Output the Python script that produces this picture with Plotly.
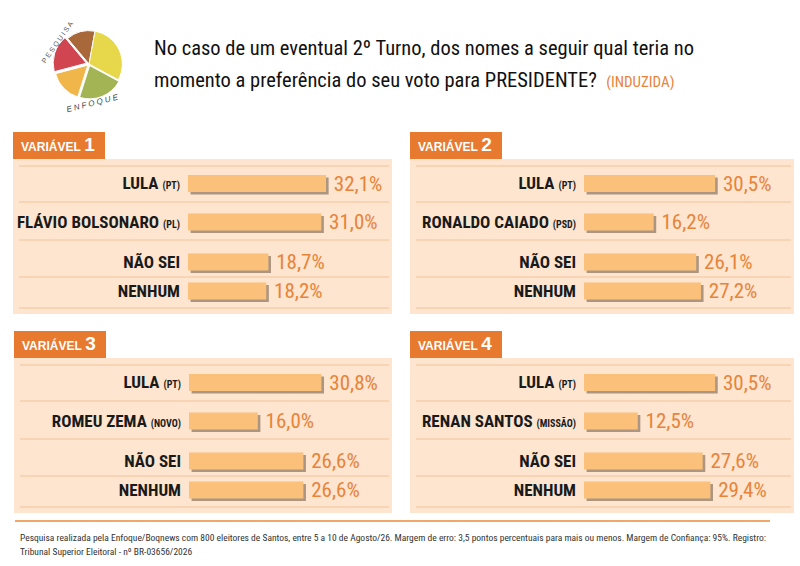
import plotly.graph_objects as go

# ---------------- data ----------------
TITLE_LINE1 = "No caso de um eventual 2º Turno, dos nomes a seguir qual teria no"
TITLE_LINE2 = "momento a preferência do seu voto para PRESIDENTE?"
TITLE_TAG = "(INDUZIDA)"

PANEL_NUMBERS = ["1", "2", "3", "4"]

CANDIDATES_1 = ["LULA", "FLÁVIO BOLSONARO", "NÃO SEI", "NENHUM"]
PARTIES_1 = ["PT", "PL", "", ""]
VALUES_1 = [32.1, 31.0, 18.7, 18.2]

CANDIDATES_2 = ["LULA", "RONALDO CAIADO", "NÃO SEI", "NENHUM"]
PARTIES_2 = ["PT", "PSD", "", ""]
VALUES_2 = [30.5, 16.2, 26.1, 27.2]

CANDIDATES_3 = ["LULA", "ROMEU ZEMA", "NÃO SEI", "NENHUM"]
PARTIES_3 = ["PT", "NOVO", "", ""]
VALUES_3 = [30.8, 16.0, 26.6, 26.6]

CANDIDATES_4 = ["LULA", "RENAN SANTOS", "NÃO SEI", "NENHUM"]
PARTIES_4 = ["PT", "MISSÃO", "", ""]
VALUES_4 = [30.5, 12.5, 27.6, 29.4]

FOOTER_LINE1 = ("Pesquisa realizada pela Enfoque/Boqnews com 800 eleitores de Santos, entre 5 a 10 de Agosto/26. "
                "Margem de erro: 3,5 pontos percentuais para mais ou menos. Margem de Confiança: 95%. Registro:")
FOOTER_LINE2 = "Tribunal Superior Eleitoral - nº BR-03656/2026"

LOGO_SLICES = [14, 30, 22, 16, 18]
LOGO_COLORS = ["#A8683A", "#E6D84A", "#A3B455", "#F0B64A", "#D04550"]

# ---------------- style / layout ----------------
W, H = 800, 566
NARROW = "Roboto Condensed, Roboto, sans-serif"
WIDE = "Liberation Sans, Arial, sans-serif"
ORANGE = "#E77A2E"
VALUE_ORANGE = "#E8833A"
PANEL_BG = "#FDE5CF"
SEP_COLOR = "#F3C29A"
BAR_COLOR = "#FBC07A"
SHADOW = "rgba(105,85,65,0.55)"
PX_PER_PCT = 4.3
ROW_CENTERS = [24.5, 63, 103, 132]   # px below panel top
SEPARATORS = [7, 43, 81, 118, 149]   # px below panel top
PANEL_H = 155

PANELS = [
    dict(x0=13, x1=392, top=159, bar0=188),
    dict(x0=410, x1=794, top=159, bar0=584),
    dict(x0=14, x1=392, top=358, bar0=189),
    dict(x0=410, x1=794, top=358, bar0=584),
]
TAB_W = 92
TAB_H = 27

def px(x):
    return x / W

def py(y):
    return 1 - y / H

DATA = [
    (CANDIDATES_1, PARTIES_1, VALUES_1),
    (CANDIDATES_2, PARTIES_2, VALUES_2),
    (CANDIDATES_3, PARTIES_3, VALUES_3),
    (CANDIDATES_4, PARTIES_4, VALUES_4),
]

fig = go.Figure()
shapes = []
annotations = []

for i, (geo, (cands, parties, vals)) in enumerate(zip(PANELS, DATA)):
    n = i + 1
    xa = "x" if n == 1 else f"x{n}"
    ya = "y" if n == 1 else f"y{n}"
    shapes.append(dict(type="rect", xref="paper", yref="paper", layer="below",
                       x0=px(geo["x0"]), x1=px(geo["x1"]),
                       y0=py(geo["top"] + PANEL_H), y1=py(geo["top"]),
                       fillcolor=PANEL_BG, line=dict(width=0)))
    shapes.append(dict(type="rect", xref="paper", yref="paper", layer="below",
                       x0=px(geo["x0"]), x1=px(geo["x0"] + TAB_W),
                       y0=py(geo["top"]), y1=py(geo["top"] - TAB_H),
                       fillcolor=ORANGE, line=dict(width=0)))
    annotations.append(dict(xref="paper", yref="paper", x=px(geo["x0"] + 6), y=py(geo["top"] - TAB_H / 2 - 1),
                            xanchor="left", yanchor="middle", showarrow=False,
                            text=f"<b>VARIÁVEL</b> <b><span style='font-size:19px'>{PANEL_NUMBERS[i]}</span></b>",
                            font=dict(family=WIDE, size=12, color="white")))
    for s in SEPARATORS:
        shapes.append(dict(type="line", xref="paper", yref="paper", layer="below",
                           x0=px(geo["x0"] + 6), x1=px(geo["x1"] - 3),
                           y0=py(geo["top"] + s), y1=py(geo["top"] + s),
                           line=dict(color=SEP_COLOR, width=1.2)))
    labels = []
    for c, p in zip(cands, parties):
        t = f"<b>{c}</b>"
        if p:
            t += f" <b><span style='font-size:10px'>({p})</span></b>"
        labels.append(t)
    fig.add_trace(go.Bar(x=vals, y=ROW_CENTERS, orientation="h", xaxis=xa, yaxis=ya,
                         width=17, offset=-6, base=0.6, marker=dict(color=SHADOW, line=dict(width=0)),
                         hoverinfo="skip", showlegend=False))
    fig.add_trace(go.Bar(x=vals, y=ROW_CENTERS, orientation="h", xaxis=xa, yaxis=ya,
                         width=17, marker=dict(color=BAR_COLOR, line=dict(width=0)),
                         texttemplate="\u00a0%{x:.1f}%", textposition="outside", cliponaxis=False,
                         constraintext="none",
                         textfont=dict(family=NARROW, size=21, color=VALUE_ORANGE),
                         showlegend=False))
    x_end = geo["x1"]
    fig.update_layout({
        ("xaxis" if n == 1 else f"xaxis{n}"): dict(
            domain=[px(geo["bar0"]), px(x_end)], anchor=ya,
            range=[0, (x_end - geo["bar0"]) / PX_PER_PCT],
            visible=False, fixedrange=True),
        ("yaxis" if n == 1 else f"yaxis{n}"): dict(
            domain=[py(geo["top"] + PANEL_H), py(geo["top"])], anchor=xa,
            range=[PANEL_H, 0], tickmode="array", tickvals=ROW_CENTERS, ticktext=labels,
            showgrid=False, zeroline=False, showline=False, ticks="",
            ticklabelstandoff=7,
            tickfont=dict(family=NARROW, size=17, color="#1a1a1a"), fixedrange=True),
    })

# logo
fig.add_trace(go.Pie(values=LOGO_SLICES, marker=dict(colors=LOGO_COLORS, line=dict(color="white", width=1)),
                     sort=False, direction="clockwise", rotation=-40, textinfo="none", hoverinfo="skip",
                     pull=[0, 0, 0.05, 0.05, 0.08], showlegend=False,
                     domain=dict(x=[px(52), px(126)], y=[py(100), py(28)])))
annotations.append(dict(xref="paper", yref="paper", x=px(58), y=py(42), xanchor="center", yanchor="middle",
                        showarrow=False, textangle=-55,
                        text="P E S Q U I S A", font=dict(family=WIDE, size=7, color="#555")))
annotations.append(dict(xref="paper", yref="paper", x=px(92), y=py(104), xanchor="center", yanchor="middle",
                        showarrow=False, textangle=-14,
                        text="<i>E N F O Q U E</i>", font=dict(family=WIDE, size=8, color="#444")))

# title
annotations.append(dict(xref="paper", yref="paper", x=px(152), y=py(48), xanchor="left", yanchor="middle",
                        showarrow=False, text=TITLE_LINE1,
                        font=dict(family=NARROW, size=20.5, color="#111")))
annotations.append(dict(xref="paper", yref="paper", x=px(152), y=py(80), xanchor="left", yanchor="middle",
                        showarrow=False,
                        text=TITLE_LINE2 + "  <span style='font-size:15px;color:" + VALUE_ORANGE + "'>" + TITLE_TAG + "</span>",
                        font=dict(family=NARROW, size=20.5, color="#111")))

# footer
shapes.append(dict(type="line", xref="paper", yref="paper", x0=px(15), x1=px(770), y0=py(521), y1=py(521),
                   line=dict(color="#F0A868", width=2)))
annotations.append(dict(xref="paper", yref="paper", x=px(18), y=py(537), xanchor="left", yanchor="middle",
                        showarrow=False, text=FOOTER_LINE1, font=dict(family=NARROW, size=9.5, color="#333")))
annotations.append(dict(xref="paper", yref="paper", x=px(18), y=py(551), xanchor="left", yanchor="middle",
                        showarrow=False, text=FOOTER_LINE2, font=dict(family=NARROW, size=9.5, color="#333")))

fig.update_layout(width=W, height=H, margin=dict(l=0, r=0, t=0, b=0),
                  paper_bgcolor="white", plot_bgcolor="rgba(0,0,0,0)",
                  barmode="overlay", separators=",.", shapes=shapes, annotations=annotations,
                  showlegend=False)

fig.write_html("out.html", config=dict(displayModeBar=False),
               post_script="document.body.style.margin='0';")
